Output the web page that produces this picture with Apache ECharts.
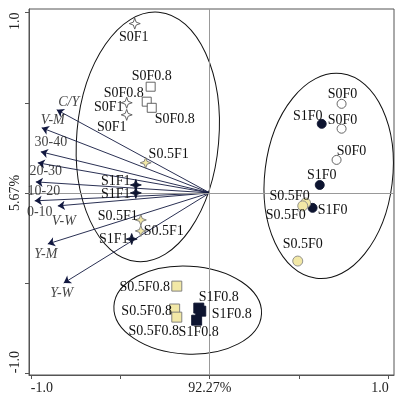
<!DOCTYPE html>
<html>
<head>
<meta charset="utf-8">
<script src="https://cdn.jsdelivr.net/npm/echarts@6/dist/echarts.min.js"></script>
<style>
  html, body { margin: 0; padding: 0; background: #fff; }
  #chart { width: 403px; height: 397px; }
</style>
</head>
<body>
<div id="chart"></div>
<script>
// tick labels
const tickValues = [-1, -0.5, 0, 0.5, 1];
const labelValues = [-1, 0, 1];
const xLabelTexts = ['-1.0', '92.27%', '1.0'];
const yLabelTexts = ['-1.0', '5.67%', '1.0'];

// environmental arrows (tips, origin at 0,0)
const arrowNames = ['C/Y', 'V-M', '30-40', '20-30', '10-20', '0-10', 'V-W', 'Y-M', 'Y-W'];
const arrowX = [-0.855, -0.939, -0.944, -0.961, -0.972, -0.978, -0.849, -0.905, -0.816];
const arrowY = [0.461, 0.361, 0.228, 0.167, 0.061, -0.044, -0.072, -0.283, -0.5];

// sample groups
const groupNames = ['S0F1', 'S0F0.8', 'S0.5F1', 'S1F1', 'S0F0', 'S1F0', 'S0.5F0', 'S0.5F0.8', 'S1F0.8'];
const groupX = [
  [-0.419, -0.464, -0.464],
  [-0.330, -0.352, -0.324],
  [-0.358, -0.385, -0.385],
  [-0.413, -0.413, -0.436],
  [0.737, 0.737, 0.709],
  [0.626, 0.615, 0.575],
  [0.536, 0.520, 0.492],
  [-0.184, -0.196, -0.184],
  [-0.061, -0.050, -0.073]
];
const groupY = [
  [0.939, 0.500, 0.433],
  [0.589, 0.506, 0.472],
  [0.167, -0.150, -0.211],
  [0.044, 0.000, -0.256],
  [0.494, 0.356, 0.183],
  [0.383, 0.044, -0.083],
  [-0.056, -0.072, -0.378],
  [-0.517, -0.644, -0.689],
  [-0.639, -0.656, -0.706]
];

// cluster ellipses: centre x, centre y, semi x, semi y, tilt (deg)
const ellipseCx = [-0.346, 0.665, -0.123];
const ellipseCy = [0.311, 0.094, -0.650];
const ellipseRx = [0.397, 0.357, 0.413];
const ellipseRy = [0.694, 0.572, 0.244];
const ellipseTilt = [-5, -7, -3];

// label layout (pixel offsets from marker)
const arrowLabelOffsets = [[12, -7], [11, -8], [10, -9], [8, 9], [8, 9], [5, 11], [6, 15], [-2, 10], [-2, 10]];
const pointLabelOffsets = [
  [[-1, 14], [-18, 5], [-15, 12]],
  [[1, -10], [-23, -8], [23, 12]],
  [[23, -8], [-23, -4], [23, 0]],
  [[-20, -4], [-20, 1], [-18, 0]],
  [[1, -10], [1, -8], [15, -9]],
  [[-14, -8], [2, -10], [20, 2]],
  [[-16, -7], [-17, 9], [5, -17]],
  [[-32, 1], [-28, 2], [-23, 14]],
  [[20, -11], [31, 3], [2, 12]]
];

const star = 'path://M0,-10 L2.6,-2.6 L10,0 L2.6,2.6 L0,10 L-2.6,2.6 L-10,0 L-2.6,-2.6 Z';
const DARK = '#0d1430';
const YEL = '#f2e8a6';
const groupStyle = [
  { symbol: star, size: 11, fill: '#fff', stroke: '#555' },
  { symbol: 'rect', size: 9, fill: '#fff', stroke: '#555' },
  { symbol: star, size: 11, fill: YEL, stroke: '#777' },
  { symbol: star, size: 11, fill: DARK, stroke: DARK },
  { symbol: 'circle', size: 9, fill: '#fff', stroke: '#555' },
  { symbol: 'circle', size: 9, fill: DARK, stroke: DARK },
  { symbol: 'circle', size: 10, fill: YEL, stroke: '#888' },
  { symbol: 'rect', size: 10, fill: YEL, stroke: '#777' },
  { symbol: 'rect', size: 10, fill: DARK, stroke: DARK }
];

const FONT = 'Liberation Serif';
const TEXT = '#111';

const fmt = (texts) => (v) => {
  const i = labelValues.indexOf(Math.round(v * 100) / 100);
  return i >= 0 ? texts[i] : '';
};

const series = [];

series.push({
  type: 'custom',
  name: 'ellipses',
  renderItem: (params, api) => {
    const c = api.coord([api.value(0), api.value(1)]);
    const rx = api.size([api.value(2), 0])[0];
    const ry = api.size([0, api.value(3)])[1];
    return {
      type: 'ellipse',
      x: c[0],
      y: c[1],
      rotation: api.value(4) * Math.PI / 180,
      shape: { cx: 0, cy: 0, rx: rx, ry: ry },
      style: { fill: 'none', stroke: '#111', lineWidth: 1 }
    };
  },
  encode: { x: 0, y: 1 },
  data: ellipseCx.map((cx, i) => [cx, ellipseCy[i], ellipseRx[i], ellipseRy[i], ellipseTilt[i]]),
  silent: true,
  z: 3,
  markLine: {
    silent: true,
    symbol: 'none',
    label: { show: false },
    lineStyle: { color: '#999', width: 1, type: 'solid' },
    data: [{ xAxis: 0 }, { yAxis: 0 }]
  }
});

series.push({
  type: 'lines',
  coordinateSystem: 'cartesian2d',
  symbol: ['none', 'arrow'],
  symbolSize: 7,
  lineStyle: { color: '#121840', width: 0.9, opacity: 1 },
  data: arrowNames.map((n, i) => ({ coords: [[0, 0], [arrowX[i], arrowY[i]]] })),
  silent: true,
  z: 4
});

series.push({
  type: 'scatter',
  symbolSize: 0,
  silent: true,
  z: 6,
  data: arrowNames.map((n, i) => ({
    value: [arrowX[i], arrowY[i]],
    label: {
      show: true,
      formatter: n,
      position: 'inside',
      offset: arrowLabelOffsets[i],
      fontStyle: /[A-Z]/.test(n) ? 'italic' : 'normal'
    }
  })),
  label: { fontFamily: FONT, fontSize: 14, color: TEXT }
});

groupNames.forEach((g, gi) => {
  const st = groupStyle[gi];
  series.push({
    type: 'scatter',
    name: g,
    symbol: st.symbol,
    symbolSize: st.size,
    itemStyle: { color: st.fill, borderColor: st.stroke, borderWidth: 0.9, opacity: 1 },
    z: 5,
    silent: true,
    data: groupX[gi].map((x, i) => ({
      value: [x, groupY[gi][i]],
      label: { show: true, position: 'inside', offset: pointLabelOffsets[gi][i], formatter: g }
    })),
    label: { fontFamily: FONT, fontSize: 14, color: TEXT }
  });
});

const axisCommon = {
  type: 'value',
  min: -1.01,
  splitLine: { show: false },
  axisLine: { show: true, onZero: false, lineStyle: { color: '#555', width: 1 } },
  axisTick: { show: true, inside: false, length: 4, customValues: tickValues, lineStyle: { color: '#555' } }
};

const option = {
  backgroundColor: '#fff',
  animation: false,
  grid: { left: 29, right: 9, top: 9, bottom: 22, show: true, borderColor: '#555', borderWidth: 1, containLabel: false },
  xAxis: Object.assign({}, axisCommon, {
    max: 1.03,
    axisLabel: {
      customValues: labelValues, formatter: fmt(xLabelTexts),
      fontFamily: FONT, fontSize: 14, color: '#222', margin: 6,
      alignMinLabel: 'left', alignMaxLabel: 'right'
    }
  }),
  yAxis: Object.assign({}, axisCommon, {
    max: 1.02,
    axisLabel: {
      customValues: labelValues, formatter: fmt(yLabelTexts), rotate: 90,
      fontFamily: FONT, fontSize: 14, color: '#222', margin: 7,
      alignMinLabel: 'left', alignMaxLabel: 'right'
    }
  }),
  series: series
};

const chart = echarts.init(document.getElementById('chart'), null, { renderer: 'canvas' });
chart.setOption(option);
</script>
</body>
</html>
